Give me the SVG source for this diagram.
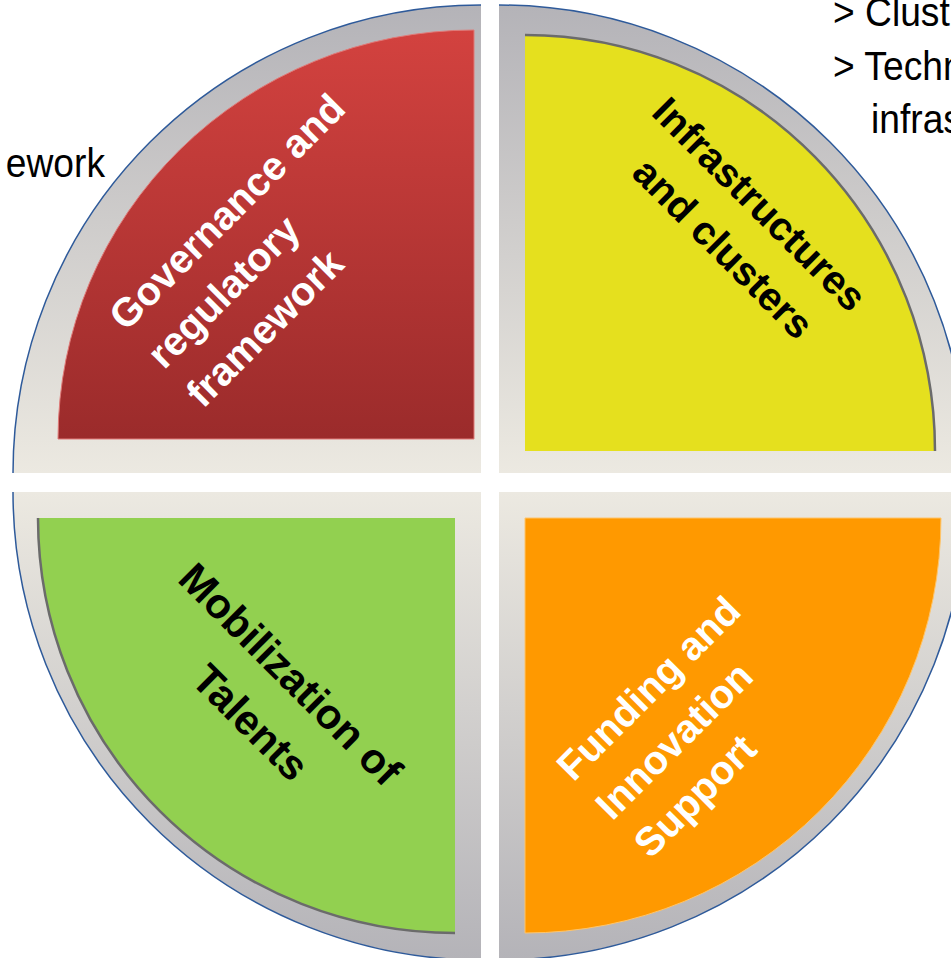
<svg xmlns="http://www.w3.org/2000/svg" width="951" height="958" viewBox="0 0 951 958">
  <defs>
    <linearGradient id="rimTop" gradientUnits="userSpaceOnUse" x1="0" y1="5" x2="0" y2="473">
      <stop offset="0" stop-color="#b4b3b8"/>
      <stop offset="1" stop-color="#ece9e1"/>
    </linearGradient>
    <linearGradient id="rimBottom" gradientUnits="userSpaceOnUse" x1="0" y1="492" x2="0" y2="960">
      <stop offset="0" stop-color="#ece9e1"/>
      <stop offset="1" stop-color="#b4b3b8"/>
    </linearGradient>
    <linearGradient id="redFill" gradientUnits="userSpaceOnUse" x1="0" y1="30" x2="0" y2="439">
      <stop offset="0" stop-color="#d3423f"/>
      <stop offset="1" stop-color="#9b2b2b"/>
    </linearGradient>
  </defs>
  <style>
    .rim { stroke: none; }
    .edge { fill: none; stroke: #2e5a9a; stroke-width: 1.5; }
    .shade { fill: none; stroke: #6b6b6b; stroke-width: 2.5; }
    .label { font-family: "Liberation Sans", Arial, sans-serif; font-weight: bold; font-size: 40px; }
    .white { fill: #ffffff; }
    .black { fill: #000000; }
    .note { font-family: "Liberation Sans", Arial, sans-serif; font-size: 40px; fill: #000000; }
  </style>

  <rect width="951" height="958" fill="#ffffff"/>

  <!-- Surrounding bullet text, cropped by the frame -->
  <g id="side-notes">
    <text class="note" transform="translate(105,177) scale(0.93,1)" text-anchor="end">ework</text>
    <text class="note" transform="translate(833,26) scale(0.93,1)">&gt; Clust</text>
    <text class="note" transform="translate(833,80) scale(0.93,1)">&gt; Techn</text>
    <text class="note" transform="translate(871,133) scale(0.93,1)">infras</text>
  </g>

  <!-- Top-left quarter -->
  <g id="governance">
    <path class="rim" fill="url(#rimTop)" d="M481,473 L13,473 A468,468 0 0 1 481,5 Z"/>
    <path class="edge" d="M13,473 A468,468 0 0 1 481,5"/>
    <path fill="url(#redFill)" stroke="#e07a78" stroke-width="1" d="M474,439 L58,439 A416,409 0 0 1 474,30 Z"/>
    <text class="label white" transform="rotate(-45)">
      <tspan x="-146" y="324">Governance and</tspan>
      <tspan x="-146" y="378">regulatory</tspan>
      <tspan x="-146" y="433">framework</tspan>
    </text>
  </g>

  <!-- Top-right quarter -->
  <g id="infrastructures">
    <path class="rim" fill="url(#rimTop)" d="M499,473 L499,5 A468,468 0 0 1 967,473 Z"/>
    <path class="edge" d="M499,5 A468,468 0 0 1 967,473"/>
    <path fill="#e5e01e" d="M525,451 L525,35 A410,416 0 0 1 935,451 Z"/>
    <path class="shade" d="M525,35 A410,416 0 0 1 935,451"/>
    <text class="label black" transform="rotate(45)" text-anchor="middle">
      <tspan x="687" y="-379">Infrastructures</tspan>
      <tspan x="687" y="-322">and clusters</tspan>
    </text>
  </g>

  <!-- Bottom-left quarter -->
  <g id="talents">
    <path class="rim" fill="url(#rimBottom)" d="M481,492 L13,492 A468,468 0 0 0 481,960 Z"/>
    <path class="edge" d="M13,492 A468,468 0 0 0 481,960"/>
    <path fill="#92d050" d="M455,518 L38,518 A417,415 0 0 0 455,933 Z"/>
    <path class="shade" d="M38,518 A417,415 0 0 0 455,933"/>
    <text class="label black" transform="rotate(45)" text-anchor="middle" style="font-size:42px">
      <tspan x="688" y="286">Mobilization of</tspan>
      <tspan x="688" y="348">Talents</tspan>
    </text>
  </g>

  <!-- Bottom-right quarter -->
  <g id="funding">
    <path class="rim" fill="url(#rimBottom)" d="M499,492 L967,492 A468,468 0 0 1 499,960 Z"/>
    <path class="edge" d="M967,492 A468,468 0 0 1 499,960"/>
    <path fill="#ff9900" stroke="#ffc56a" stroke-width="1" d="M525,518 L941,518 A416,415 0 0 1 525,933 Z"/>
    <text class="label white" transform="rotate(-45)">
      <tspan x="-148" y="959">Funding and</tspan>
      <tspan x="-148" y="1014">Innovation</tspan>
      <tspan x="-148" y="1068">Support</tspan>
    </text>
  </g>
</svg>
